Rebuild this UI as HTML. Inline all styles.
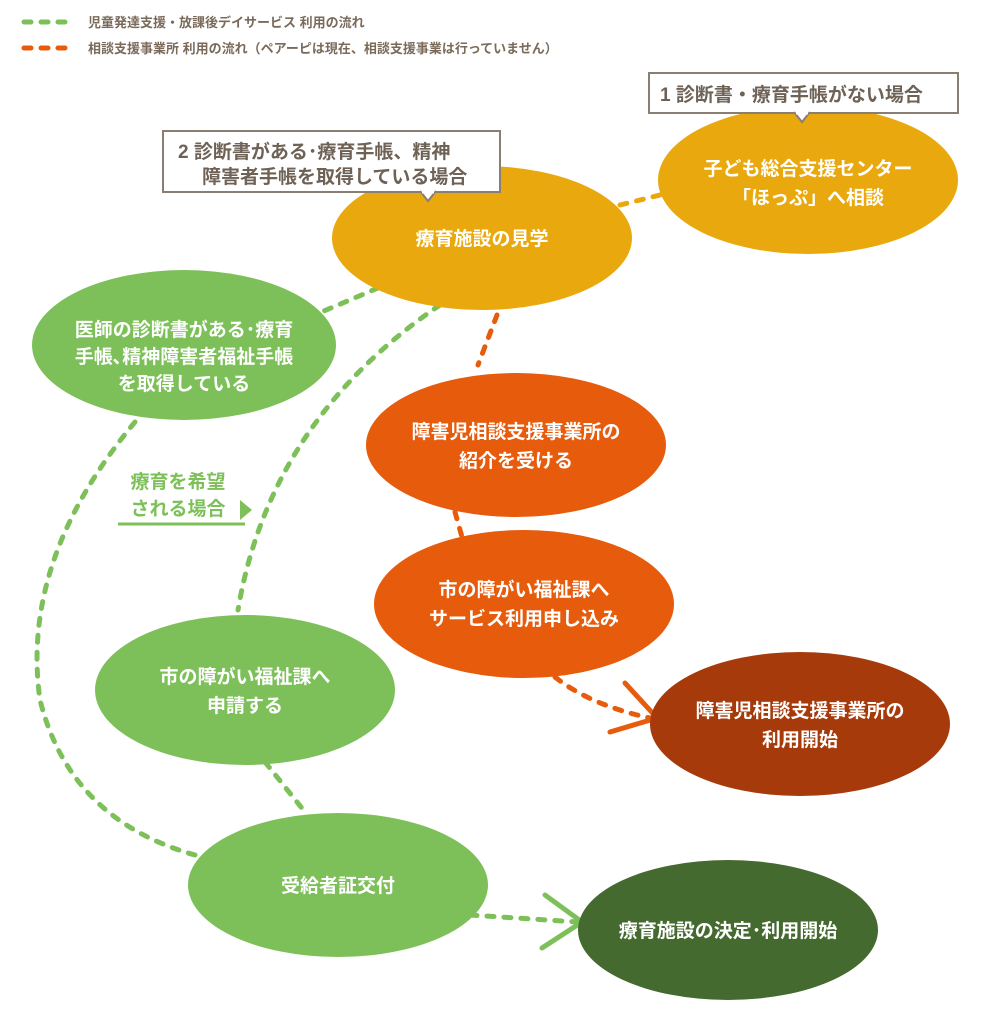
<!DOCTYPE html>
<html><head><meta charset="utf-8"><style>
body{margin:0;background:#fff;}
svg{display:block;font-family:"Liberation Sans","Noto Sans CJK JP",sans-serif;}
.w{fill:#fff;font-weight:bold;font-size:19px;text-anchor:middle;}
.g{fill:none;stroke:#7dc05a;stroke-width:5;stroke-linecap:round;stroke-dasharray:7 10;}
.o{fill:none;stroke:#e65c0c;stroke-width:5;stroke-linecap:round;stroke-dasharray:7 10;}
.y{fill:none;stroke:#e9a90e;stroke-width:5;stroke-linecap:round;stroke-dasharray:7 10;}
</style></head><body>
<svg width="981" height="1025" viewBox="0 0 981 1025">
<!-- legend -->
<line x1="24" y1="22" x2="70" y2="22" class="g"/>
<text x="88" y="27" font-size="13" fill="#7a6a5a" font-weight="bold">児童発達支援・放課後デイサービス 利用の流れ</text>
<line x1="24" y1="48" x2="70" y2="48" class="o"/>
<text x="88" y="53" font-size="13" fill="#7a6a5a" font-weight="bold">相談支援事業所 利用の流れ（ペアーピは現在、相談支援事業は行っていません）</text>

<!-- connectors -->
<path d="M620,205 L660,195" class="y"/>
<path d="M378,288 L312,316" class="g"/>
<path d="M440,305 Q270,420 238,610" class="g"/>
<path d="M135,422 Q20,560 40,700 Q70,820 195,855" class="g"/>
<path d="M265,762 L305,812" class="g"/>
<path d="M470,915 L578,922" class="g"/>
<path d="M545,895 L582,922 L542,948" fill="none" stroke="#7dc05a" stroke-width="5" stroke-linecap="round"/>
<path d="M497,315 L478,365" class="o"/>
<path d="M455,512 L462,537" class="o"/>
<path d="M555,677 Q590,705 650,718" class="o"/>
<path d="M625,683 L657,718 L610,732" fill="none" stroke="#e65c0c" stroke-width="5" stroke-linecap="round"/>

<!-- ellipses -->
<ellipse cx="808" cy="180" rx="150" ry="74" fill="#e9a90e"/>
<text class="w" x="808" y="175">子ども総合支援センター</text>
<text class="w" x="808" y="204">「ほっぷ」へ相談</text>
<ellipse cx="482" cy="238" rx="150" ry="72" fill="#e9a90e"/>
<text class="w" x="482" y="245">療育施設の見学</text>
<ellipse cx="184" cy="345" rx="152" ry="75" fill="#7dc05a"/>
<text class="w" x="184" y="336">医師の診断書がある･療育</text>
<text class="w" x="184" y="363">手帳､精神障害者福祉手帳</text>
<text class="w" x="184" y="390">を取得している</text>
<ellipse cx="516" cy="445" rx="150" ry="72" fill="#e65c0c"/>
<text class="w" x="516" y="438">障害児相談支援事業所の</text>
<text class="w" x="516" y="467">紹介を受ける</text>
<ellipse cx="524" cy="604" rx="150" ry="74" fill="#e65c0c"/>
<text class="w" x="524" y="596">市の障がい福祉課へ</text>
<text class="w" x="524" y="625">サービス利用申し込み</text>
<ellipse cx="800" cy="724" rx="150" ry="72" fill="#a63a0a"/>
<text class="w" x="800" y="717">障害児相談支援事業所の</text>
<text class="w" x="800" y="746">利用開始</text>
<ellipse cx="245" cy="690" rx="150" ry="75" fill="#7dc05a"/>
<text class="w" x="245" y="683">市の障がい福祉課へ</text>
<text class="w" x="245" y="712">申請する</text>
<ellipse cx="338" cy="885" rx="150" ry="72" fill="#7dc05a"/>
<text class="w" x="338" y="892">受給者証交付</text>
<ellipse cx="728" cy="930" rx="150" ry="70" fill="#456a30"/>
<text class="w" x="728" y="937">療育施設の決定･利用開始</text>

<!-- label -->
<text x="178" y="488" font-size="19" font-weight="bold" fill="#7dc05a" text-anchor="middle">療育を希望</text>
<text x="178" y="515" font-size="19" font-weight="bold" fill="#7dc05a" text-anchor="middle">される場合</text>
<line x1="118" y1="524" x2="245" y2="524" stroke="#7dc05a" stroke-width="3"/>
<path d="M240,500 L252,510 L240,520 Z" fill="#7dc05a"/>

<!-- callouts -->
<rect x="649" y="73" width="309" height="40" fill="#fff" stroke="#8a7e72" stroke-width="2"/>
<path d="M794,112 L802,122 L810,112" fill="#fff" stroke="#8a7e72" stroke-width="2"/>
<line x1="796" y1="113" x2="808" y2="113" stroke="#fff" stroke-width="3"/>
<text x="660" y="101" font-size="19" font-weight="bold" fill="#6e6257">1 診断書・療育手帳がない場合</text>
<rect x="163" y="131" width="337" height="61" fill="#fff" stroke="#8a7e72" stroke-width="2"/>
<path d="M420,191 L428,201 L436,191" fill="#fff" stroke="#8a7e72" stroke-width="2"/>
<line x1="422" y1="192" x2="434" y2="192" stroke="#fff" stroke-width="3"/>
<text x="178" y="158" font-size="19" font-weight="bold" fill="#6e6257">2 診断書がある･療育手帳、精神</text>
<text x="202" y="183" font-size="19" font-weight="bold" fill="#6e6257">障害者手帳を取得している場合</text>
</svg>
</body></html>
